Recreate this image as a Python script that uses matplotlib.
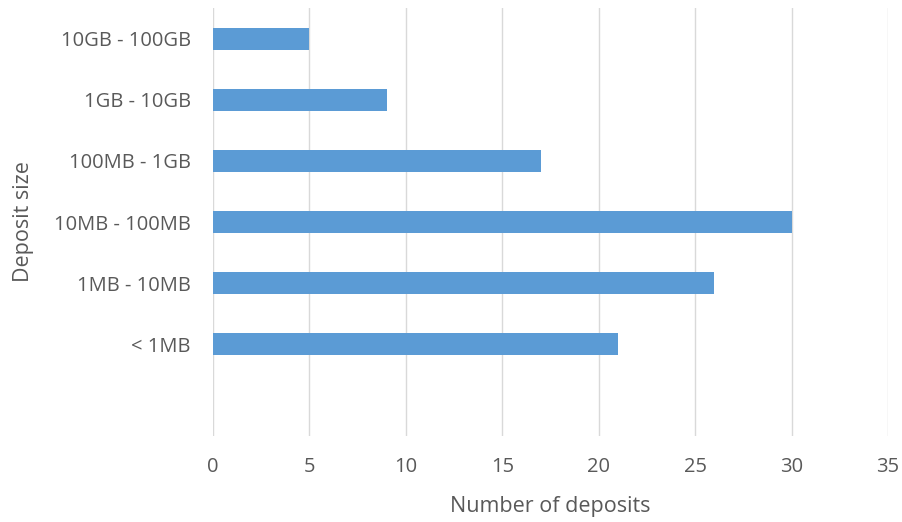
import numpy as np
import matplotlib.pyplot as plt

# Deposit size distribution (bottom to top)
categories = ["< 1MB", "1MB - 10MB", "10MB - 100MB", "100MB - 1GB", "1GB - 10GB", "10GB - 100GB"]
counts = [21, 26, 30, 17, 9, 5]
xticks = [0, 5, 10, 15, 20, 25, 30, 35]

plt.rcParams['font.family'] = ['Open Sans', 'DejaVu Sans']
text_color = "#595959"

fig = plt.figure(figsize=(9.03, 5.22), dpi=100)
ax = fig.add_axes([213 / 903, 1 - 436 / 522, (888 - 213) / 903, (436 - 8) / 522])

y = np.arange(len(categories))
ax.barh(y, counts, height=0.36, color="#5B9BD5", zorder=3)

ax.set_xlim(0, 35)
ax.set_ylim(-1.5, len(categories) - 0.5)
ax.set_xticks(xticks)
ax.set_yticks(y)
ax.set_yticklabels(categories)

ax.grid(axis="x", color="#D9D9D9", linewidth=1.0, zorder=0)
for s in ax.spines.values():
    s.set_visible(False)
ax.tick_params(axis="both", length=0, labelsize=14.5, labelcolor=text_color)
ax.tick_params(axis="x", pad=15)
ax.tick_params(axis="y", pad=16)

ax.set_xlabel("Number of deposits", fontsize=15.5, color=text_color, labelpad=14)
ax.set_ylabel("Deposit size", fontsize=15.5, color=text_color, labelpad=14)

fig.savefig("out.png", dpi=100)
